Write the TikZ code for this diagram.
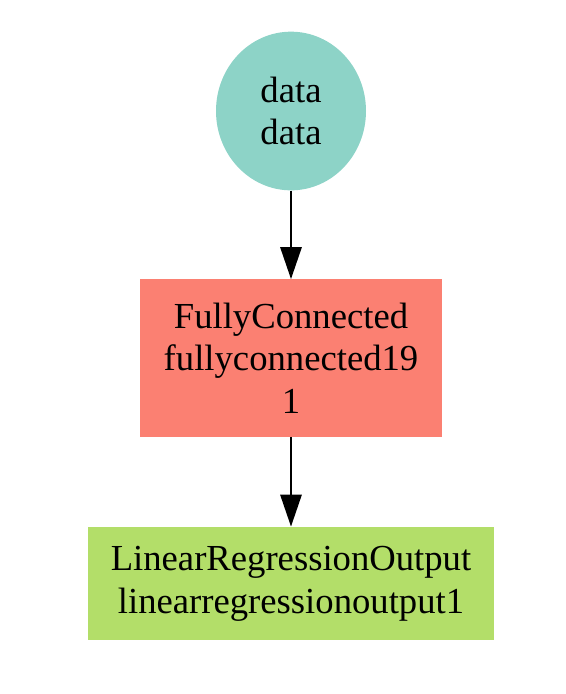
\documentclass[tikz,border=0pt]{standalone}
\usepackage{fontspec}
\setmainfont{Liberation Serif}
\usetikzlibrary{shapes.geometric}
\usetikzlibrary{arrows.meta}
\definecolor{dataTeal}{HTML}{8DD3C7}
\definecolor{fcSalmon}{HTML}{FB8072}
\definecolor{outGreen}{HTML}{B3DE69}

\begin{document}
\begin{tikzpicture} [
    x=0.75pt, y=-0.75pt,
    every node/.style = { font=\fontsize{27.5}{32}\selectfont, align=center, inner sep=0pt},
    input/.style      = { ellipse, fill=dataTeal, minimum width=112.5pt, minimum height=119pt},
    layer/.style      = { rectangle, fill=fcSalmon, minimum width=226.5pt, minimum height=118pt},
    output/.style     = { rectangle, fill=outGreen, minimum width=305pt, minimum height=85pt},
    line/.style       = { draw, line width=1.5pt, -{Triangle[length=24pt, width=16pt]}},
  ]
  \useasboundingbox (0,0) rectangle (566,694);

%Knoten
  \node [input]  (data) at (291,111) {data\\data};
  \node [layer]  (fc)   at (291,358) {FullyConnected\\fullyconnected19\\1};
  \node [output] (lro)  at (291,583.5) {LinearRegressionOutput\\linearregressionoutput1};

%Pfeile
  \begin{scope} [every path/.style={line}]
   \path (data) -- (fc);
   \path (fc) -- (lro);
  \end{scope}
\end{tikzpicture}
\end{document}
